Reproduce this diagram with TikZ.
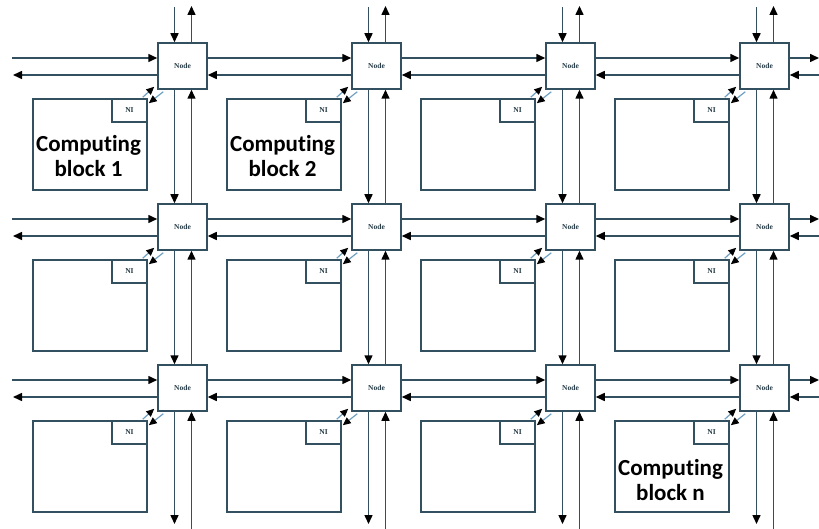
\documentclass[tikz,border=0pt]{standalone}
\usepackage{fontspec}
\newfontfamily\calib[Ligatures={NoCommon}]{Carlito}
\newfontfamily\tnr{Liberation Serif}
\usetikzlibrary{arrows.meta,calc}
\definecolor{ln}{RGB}{50,80,95}
\definecolor{nicol}{RGB}{110,160,195}
\begin{document}
\begin{tikzpicture}[x=1pt,y=-1pt,line width=1.5pt,
  router/.style={draw=ln,fill=white,minimum width=49pt,minimum height=46pt,inner sep=0pt,
    font=\tnr\bfseries\fontsize{7.5}{8}\selectfont,text=ln!70!black},
  block/.style={draw=ln,minimum width=114pt,minimum height=91pt,inner sep=0pt},
  nibox/.style={draw=ln,fill=white,minimum width=35pt,minimum height=23pt,inner sep=0pt,
    font=\tnr\bfseries\fontsize{7.5}{8}\selectfont,text=ln!70!black},
  link/.style={draw=ln,-{Triangle[length=9pt,width=8pt,color=black]}},
  nilink/.style={draw=nicol,line width=1.2pt,-{Triangle[length=8pt,width=7pt,color=black]}},
  blabel/.style={font=\calib\bfseries\fontsize{23}{25}\selectfont,align=center,anchor=base,inner sep=0pt}]
\useasboundingbox (0,0) rectangle (819,529);
\fill[white] (0,0) rectangle (819,529);
\foreach \r in {1,2,3}{
  \foreach \c in {1,...,4}{
    \pgfmathsetmacro\cx{182.5+194*(\c-1)}
    \pgfmathsetmacro\cy{66+161*(\r-1)}
    \node[router] (n\r\c) at (\cx,\cy) {Node};
    \node[block] (b\r\c) at (\cx-92.5,\cy+78.5) {};
    \node[nibox] (ni\r\c) at (\cx-53,\cy+44.5) {NI};
    \draw[nilink] ($(ni\r\c.north east)+(-5,-1)$) -- ($(n\r\c.south west)+(-3,-3)$);
    \draw[nilink] ($(n\r\c.south west)+(6,2)$) -- ($(ni\r\c.north east)+(1,5)$);
  }
}
% horizontal links
\foreach \r in {1,2,3}{
  \foreach \c in {1,2,3}{
    \pgfmathtruncatemacro\d{\c+1}
    \draw[link] ([yshift=8pt]n\r\c.east) -- ([yshift=8pt]n\r\d.west);
    \draw[link] ([yshift=-9pt]n\r\d.west) -- ([yshift=-9pt]n\r\c.east);
  }
  \pgfmathsetmacro\cy{66+161*(\r-1)}
  \coordinate (lin\r) at (12,\cy-8);
  \coordinate (lout\r) at (13,\cy+9);
  \coordinate (rout\r) at (819,\cy-8);
  \coordinate (rin\r) at (819,\cy+9);
  \draw[link] (lin\r) -- ([yshift=8pt]n\r1.west);
  \draw[link] ([yshift=-9pt]n\r1.west) -- (lout\r);
  \draw[link] ([yshift=8pt]n\r4.east) -- (rout\r);
  \draw[link] (rin\r) -- ([yshift=-9pt]n\r4.east);
}
% vertical links
\foreach \c in {1,...,4}{
  \foreach \r in {1,2}{
    \pgfmathtruncatemacro\s{\r+1}
    \draw[link] ([xshift=-8pt]n\r\c.south) -- ([xshift=-8pt]n\s\c.north);
    \draw[link] ([xshift=9pt]n\s\c.north) -- ([xshift=9pt]n\r\c.south);
  }
  \pgfmathsetmacro\cx{182.5+194*(\c-1)}
  \coordinate (tin\c) at (\cx-8,7);
  \coordinate (tout\c) at (\cx+9,6);
  \coordinate (bout\c) at (\cx-8,524);
  \coordinate (bin\c) at (\cx+9,529);
  \draw[link] (tin\c) -- ([xshift=-8pt]n1\c.north);
  \draw[link] ([xshift=9pt]n1\c.north) -- (tout\c);
  \draw[link] ([xshift=-8pt]n3\c.south) -- (bout\c);
  \draw[link] (bin\c) -- ([xshift=9pt]n3\c.south);
}
\node[blabel] (t1) at (88.5,177) {Computing\\block 1};
\node[blabel] (t2) at (282.5,177) {Computing\\block 2};
\node[blabel] (tn) at (670.5,500) {Computing\\block n};
\end{tikzpicture}
\end{document}
